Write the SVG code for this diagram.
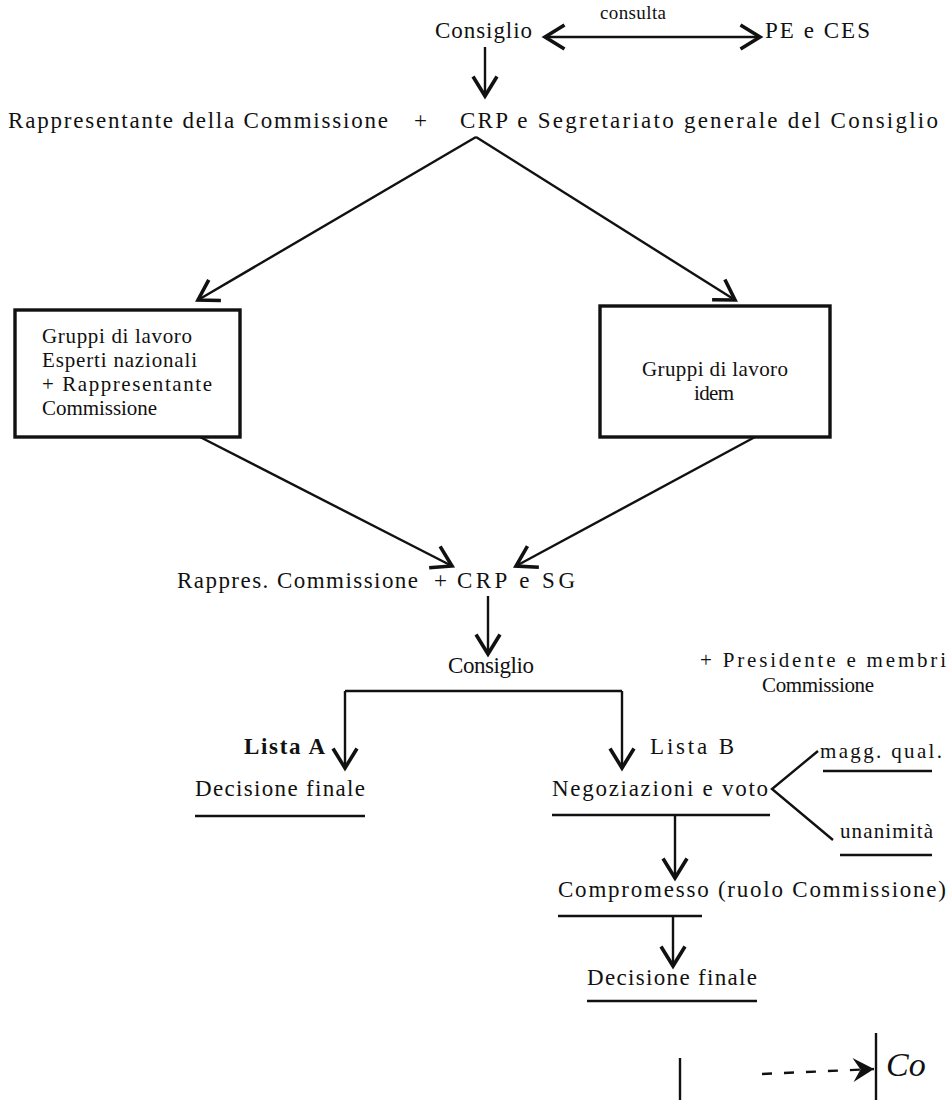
<svg xmlns="http://www.w3.org/2000/svg" width="948" height="1100" viewBox="0 0 948 1100">
<style>
text{font-family:"Liberation Serif","Times New Roman",serif;font-size:23px;fill:#111}
.sm{font-size:19px}
.bx{font-size:21px}
.b{font-weight:bold}
.ln{stroke:#111;stroke-width:2.4;fill:none}
.box{stroke:#111;stroke-width:3.4;fill:#fff}
.ul{stroke:#111;stroke-width:2.6}
.hw{font-family:"Liberation Serif",serif;font-style:italic;font-size:34px}
</style>
<defs>
<marker id="ah" markerUnits="userSpaceOnUse" markerWidth="30" markerHeight="30" viewBox="-16 -10 20 20" refX="0" refY="0" orient="auto">
<path d="M-13,-8 L0,0 L-13,8" fill="none" stroke="#111" stroke-width="2.4"/>
</marker>
<marker id="ahs" markerUnits="userSpaceOnUse" markerWidth="30" markerHeight="30" viewBox="-16 -10 20 20" refX="0" refY="0" orient="auto-start-reverse">
<path d="M-13,-8 L0,0 L-13,8" fill="none" stroke="#111" stroke-width="2.4"/>
</marker>
<marker id="fh" markerUnits="userSpaceOnUse" markerWidth="30" markerHeight="30" viewBox="-16 -10 20 20" refX="0" refY="0" orient="auto">
<path d="M-14,-8 L0,0 L-14,8 L-9,0 Z" fill="#111"/>
</marker>
</defs>

<g id="connectors">
<line class="ln" x1="545" y1="37" x2="760" y2="37" marker-start="url(#ahs)" marker-end="url(#ah)"/>
<line class="ln" x1="485" y1="47" x2="485" y2="96" marker-end="url(#ah)"/>
<line class="ln" x1="476" y1="137" x2="198" y2="300" marker-end="url(#ah)"/>
<line class="ln" x1="476" y1="137" x2="735" y2="300" marker-end="url(#ah)"/>
<line class="ln" x1="200" y1="437" x2="452" y2="566" marker-end="url(#ah)"/>
<line class="ln" x1="755" y1="437" x2="516" y2="566" marker-end="url(#ah)"/>
<line class="ln" x1="488" y1="596" x2="488" y2="654" marker-end="url(#ah)"/>
<path class="ln" d="M345,691 H622" stroke-width="2.8"/>
<line class="ln" x1="345" y1="691" x2="345" y2="768" marker-end="url(#ah)"/>
<line class="ln" x1="622" y1="691" x2="622" y2="768" marker-end="url(#ah)"/>
<path class="ln" d="M818,751 L772,789 L833,840"/>
<line class="ln" x1="675" y1="816" x2="675" y2="878" marker-end="url(#ah)"/>
<line class="ln" x1="673" y1="916" x2="673" y2="966" marker-end="url(#ah)"/>
<line class="ln" x1="680" y1="1058" x2="680" y2="1100"/>
<line class="ln" x1="762" y1="1074" x2="874" y2="1069" stroke-dasharray="10,12" marker-end="url(#fh)"/>
<line class="ln" x1="876" y1="1033" x2="876" y2="1100"/>
</g>

<g id="n-consiglio-top"><text x="435" y="38" textLength="97">Consiglio</text></g>
<g id="l-consulta"><text class="sm" x="600" y="19" textLength="66">consulta</text></g>
<g id="n-pe-ces"><text x="765" y="38" textLength="105">PE e CES</text></g>

<g id="n-row2">
<text x="8" y="128" textLength="380">Rappresentante della Commissione</text>
<text x="414" y="128">+</text>
<text x="460" y="128" textLength="478">CRP e Segretariato generale del Consiglio</text>
</g>

<g id="n-box-left">
<rect class="box" x="15" y="310" width="225" height="127"/>
<text class="bx" x="42" y="343" textLength="150">Gruppi di lavoro</text>
<text class="bx" x="42" y="367" textLength="155">Esperti nazionali</text>
<text class="bx" x="42" y="391" textLength="170">+  Rappresentante</text>
<text class="bx" x="42" y="415" textLength="115">Commissione</text>
</g>

<g id="n-box-right">
<rect class="box" x="600" y="306" width="230" height="131"/>
<text class="bx" x="642" y="376" textLength="146">Gruppi di lavoro</text>
<text class="bx" x="694" y="400" textLength="40">idem</text>
</g>

<g id="n-row-mid">
<text x="177" y="588" textLength="241">Rappres. Commissione</text>
<text x="434" y="588">+</text>
<text x="457" y="588" textLength="118">CRP e SG</text>
</g>

<g id="n-consiglio-mid"><text x="448" y="673" textLength="86">Consiglio</text></g>
<g id="n-presidente">
<text class="bx" x="700" y="667" textLength="246">+ Presidente e membri</text>
<text class="bx" x="762" y="692" textLength="112">Commissione</text>
</g>

<g id="l-lista-a"><text class="b" x="244" y="754" textLength="81">Lista A</text></g>
<g id="l-lista-b"><text x="650" y="754" textLength="84">Lista B</text></g>

<g id="n-decisione-a">
<text x="195" y="796" textLength="170">Decisione finale</text>
<line class="ul" x1="195" y1="816" x2="365" y2="816"/>
</g>

<g id="n-negoziazioni">
<text x="552" y="796" textLength="216">Negoziazioni e voto</text>
<line class="ul" x1="552" y1="815" x2="770" y2="815"/>
</g>

<g id="n-magg">
<text class="bx" x="820" y="758" textLength="122">magg. qual.</text>
<line class="ul" x1="823" y1="771" x2="932" y2="771" stroke-width="1.8"/>
</g>

<g id="n-unanimita">
<text class="bx" x="840" y="838" textLength="93">unanimità</text>
<line class="ul" x1="840" y1="855" x2="932" y2="855" stroke-width="1.8"/>
</g>

<g id="n-compromesso">
<text x="558" y="897" textLength="388">Compromesso (ruolo Commissione)</text>
<line class="ul" x1="558" y1="916" x2="702" y2="916"/>
</g>

<g id="n-decisione-b">
<text x="587" y="985" textLength="170">Decisione finale</text>
<line class="ul" x1="587" y1="1001" x2="757" y2="1001"/>
</g>

<g id="n-handwritten"><text class="hw" x="886" y="1076">Co</text></g>
</svg>
